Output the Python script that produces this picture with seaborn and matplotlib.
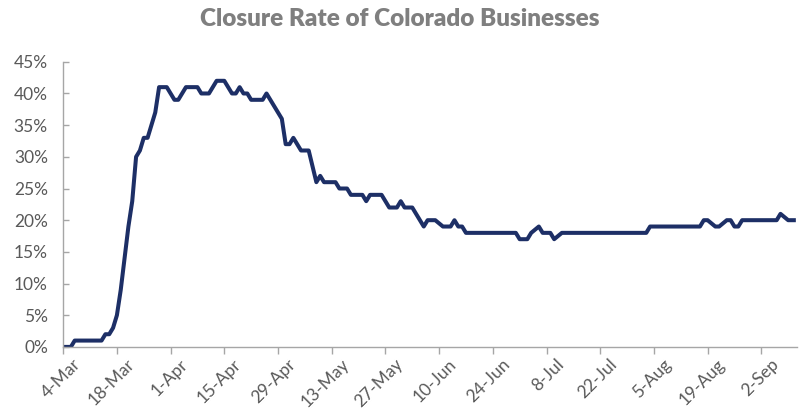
import matplotlib
matplotlib.use("Agg")
import matplotlib.pyplot as plt
import matplotlib.ticker as mticker
import pandas as pd
import seaborn as sns

# Share of Colorado businesses reported closed (percent), 2020
dates = [
    "2020-03-04", "2020-03-06", "2020-03-07", "2020-03-14", "2020-03-15",
    "2020-03-16", "2020-03-17", "2020-03-18", "2020-03-19", "2020-03-20",
    "2020-03-21", "2020-03-22", "2020-03-23", "2020-03-24", "2020-03-25",
    "2020-03-26", "2020-03-27", "2020-03-28", "2020-03-29", "2020-03-31",
    "2020-04-02", "2020-04-03", "2020-04-05", "2020-04-08", "2020-04-09",
    "2020-04-11", "2020-04-13", "2020-04-15", "2020-04-17", "2020-04-18",
    "2020-04-19", "2020-04-20", "2020-04-21", "2020-04-22", "2020-04-25",
    "2020-04-26", "2020-04-28", "2020-04-30", "2020-05-01", "2020-05-02",
    "2020-05-03", "2020-05-04", "2020-05-05", "2020-05-07", "2020-05-09",
    "2020-05-10", "2020-05-11", "2020-05-14", "2020-05-15", "2020-05-17",
    "2020-05-18", "2020-05-21", "2020-05-22", "2020-05-23", "2020-05-26",
    "2020-05-27", "2020-05-28", "2020-05-30", "2020-05-31", "2020-06-01",
    "2020-06-03", "2020-06-05", "2020-06-06", "2020-06-07", "2020-06-09",
    "2020-06-11", "2020-06-13", "2020-06-14", "2020-06-15", "2020-06-16",
    "2020-06-17", "2020-06-30", "2020-07-01", "2020-07-03", "2020-07-04",
    "2020-07-06", "2020-07-07", "2020-07-09", "2020-07-10", "2020-07-12",
    "2020-08-03", "2020-08-04", "2020-08-17", "2020-08-18", "2020-08-19",
    "2020-08-21", "2020-08-22", "2020-08-24", "2020-08-25", "2020-08-26",
    "2020-08-27", "2020-08-28", "2020-09-06", "2020-09-07", "2020-09-09",
    "2020-09-11",
]
closure_pct = [
    0, 0, 1, 1, 2,
    2, 3, 5, 9, 14,
    19, 23, 30, 31, 33,
    33, 35, 37, 41, 41,
    39, 39, 41, 41, 40,
    40, 42, 42, 40, 40,
    41, 40, 40, 39, 39,
    40, 38, 36, 32, 32,
    33, 32, 31, 31, 26,
    27, 26, 26, 25, 25,
    24, 24, 23, 24, 24,
    23, 22, 22, 23, 22,
    22, 20, 19, 20, 20,
    19, 19, 20, 19, 19,
    18, 18, 17, 17, 18,
    19, 18, 18, 17, 18,
    18, 19, 19, 20, 20,
    19, 19, 20, 20, 19,
    19, 20, 20, 21, 20,
    20,
]
y_ticks = list(range(0, 46, 5))

df = pd.DataFrame({"date": pd.to_datetime(dates), "rate": closure_pct})

sns.set_theme(style="white")
plt.rcParams["font.family"] = ["Lato", "DejaVu Sans"]

fig = plt.figure(figsize=(8.0, 4.12), dpi=100)
ax = fig.add_axes([0.079, 0.158, 0.917, 0.692])

sns.lineplot(data=df, x="date", y="rate", ax=ax, color="#1d2f66",
             linewidth=2.9, solid_joinstyle="round", solid_capstyle="butt")

start = pd.Timestamp("2020-03-04")
ax.set_xlim(start, pd.Timestamp("2020-09-11") + pd.Timedelta(hours=6))
ax.set_ylim(0, 45)

tick_dates = pd.date_range(start, periods=14, freq="14D")
ax.set_xticks(tick_dates)
ax.set_xticklabels([])
# slanted date labels, hung just below and right of each tick
for d in tick_dates:
    ax.annotate(f"{d.day}-{d.strftime('%b')}", xy=(d, 0),
                xycoords=("data", "axes fraction"),
                xytext=(9, -9), textcoords="offset pixels",
                rotation=45, ha="right", va="top", rotation_mode="anchor",
                fontsize=12.5, color="#595959", annotation_clip=False)

ax.set_yticks(y_ticks)
ax.yaxis.set_major_formatter(mticker.FuncFormatter(lambda v, _: f"{int(v)}%"))
ax.tick_params(axis="y", labelsize=12.5, labelcolor="#595959",
               length=4, width=1, color="#a6a6a6", direction="in",
               left=True, pad=11)
ax.tick_params(axis="x", length=5, width=1, color="#a6a6a6",
               direction="out", bottom=True)

for side in ("top", "right"):
    ax.spines[side].set_visible(False)
for side in ("left", "bottom"):
    ax.spines[side].set_color("#a6a6a6")
    ax.spines[side].set_linewidth(1)

ax.set_xlabel("")
ax.set_ylabel("")
ax.grid(False)

fig.text(0.5, 0.955, "Closure Rate of Colorado Businesses", ha="center",
         va="center", fontsize=17.5, fontweight="heavy", color="#7f7f7f")

fig.savefig("out.png", dpi=100, facecolor="white")
